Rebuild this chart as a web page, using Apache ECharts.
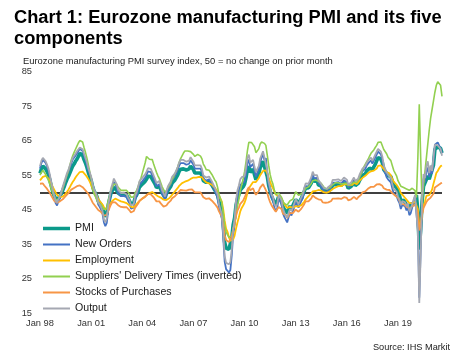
<!DOCTYPE html>
<html>
<head>
<meta charset="utf-8">
<script src="https://cdn.jsdelivr.net/npm/echarts@6/dist/echarts.min.js"></script>
<style>
html,body{margin:0;padding:0;background:#fff;}
#chart{width:463px;height:357px;}
</style>
</head>
<body>
<div id="chart"></div>
<script>
// Monthly categories Jan 1998 .. Aug 2021
const monthNames = ['Jan','Feb','Mar','Apr','May','Jun','Jul','Aug','Sep','Oct','Nov','Dec'];
const firstYear = 1998;
const monthCount = 284;
const categories = [];
for (let i = 0; i < monthCount; i++) {
  const y = (firstYear + Math.floor(i / 12)) % 100;
  categories.push(monthNames[i % 12] + ' ' + String(y).padStart(2, '0'));
}
const yTicks = [15, 25, 35, 45, 55, 65, 75, 85];
const noChangeLevel = 50;

const pmi = [
55.5,56.8,57.6,57.3,56.8,56.0,55.0,53.5,51.8,50.2,49.0,48.2,
47.8,48.3,48.9,49.6,50.6,51.6,52.8,53.8,54.6,55.6,56.6,57.6,
58.2,59.0,59.6,60.4,61.3,61.5,60.8,59.5,58.5,57.3,55.8,54.6,
53.5,51.8,50.4,49.7,48.9,47.6,47.0,46.4,45.6,44.0,43.0,43.8,
46.3,48.1,49.9,50.6,51.5,51.3,50.6,49.8,49.5,49.2,49.3,49.3,
49.6,49.1,48.4,47.9,46.7,46.4,46.9,48.6,49.2,50.2,51.5,51.9,
52.4,52.6,53.2,53.8,54.7,54.4,54.6,54.7,53.1,52.4,51.4,51.4,
51.8,50.8,49.8,49.2,48.4,49.6,50.5,50.4,51.7,52.7,52.8,53.6,
54.0,55.1,56.1,56.7,57.0,56.8,56.6,56.5,56.6,56.8,57.6,57.4,
56.6,55.6,55.6,55.6,55.5,55.6,54.9,53.4,53.2,52.9,52.7,53.2,
52.9,52.1,52.0,50.7,50.6,49.2,47.4,47.6,45.0,41.1,35.6,33.9,
34.4,33.5,33.9,36.8,40.7,42.6,46.3,48.2,49.3,50.7,51.2,51.6,
52.4,54.2,56.6,57.6,55.8,55.6,56.7,55.1,53.7,54.6,55.3,57.1,
57.3,59.0,57.5,58.0,54.6,52.0,50.4,49.0,48.5,47.1,46.4,46.9,
48.8,49.0,47.7,45.9,45.1,45.1,44.0,45.1,46.1,45.4,46.2,46.1,
47.9,47.9,46.8,46.7,48.3,48.8,50.3,51.4,51.1,51.3,51.6,52.7,
54.0,53.2,53.0,53.4,52.2,51.8,51.8,50.7,50.3,50.6,50.1,50.6,
51.0,51.0,52.2,52.0,52.2,52.5,52.4,52.3,52.0,52.3,52.8,53.2,
52.3,51.2,51.6,51.7,51.5,52.8,52.0,51.7,52.6,53.5,53.7,54.9,
55.2,55.4,56.2,56.7,57.0,57.4,56.6,57.4,58.1,58.5,60.1,60.6,
59.6,58.6,56.6,56.2,55.5,54.9,55.1,54.6,53.2,52.0,51.8,51.4,
50.5,49.3,47.5,47.9,47.7,47.6,46.5,47.0,45.7,45.9,46.9,46.3,
47.9,49.2,44.5,33.4,39.4,47.4,51.8,51.7,53.7,54.8,53.8,55.2,
54.8,57.9,62.5,62.9,63.1,63.4,62.8,61.4];

const newOrders = [
56.9,58.5,59.5,59.1,58.5,57.5,56.2,54.4,52.2,50.3,48.5,46.9,
46.2,47.5,48.2,49.5,50.9,52.2,53.6,55.0,55.8,57.1,58.3,59.5,
59.8,60.6,61.3,61.9,62.6,62.8,62.0,60.7,59.5,58.1,56.4,55.2,
54.0,52.0,50.4,49.5,48.3,46.5,45.8,45.0,43.8,41.3,40.2,41.2,
44.8,47.5,50.0,51.2,53.0,52.8,51.5,49.8,49.4,48.9,49.2,49.0,
49.4,48.6,47.6,46.9,45.3,44.8,45.6,48.0,49.0,50.6,52.3,52.6,
53.2,53.5,54.3,55.0,56.1,55.7,55.9,56.0,54.0,53.0,51.8,51.9,
52.4,51.1,49.6,48.8,47.8,49.4,50.8,50.6,52.3,53.6,53.7,54.6,
55.1,56.5,57.8,58.5,58.8,58.5,58.2,58.0,58.1,58.3,59.3,59.0,
58.0,56.9,56.8,56.9,56.7,56.9,55.9,54.0,53.6,53.4,53.0,53.8,
53.4,52.4,52.3,50.5,50.4,48.5,45.7,46.2,42.5,36.9,30.0,27.8,
28.3,26.8,27.5,31.8,37.9,40.5,46.2,49.0,50.3,52.0,52.6,53.0,
53.1,55.4,58.4,59.5,57.3,57.0,58.3,56.3,54.6,55.7,56.6,58.8,
59.1,61.2,59.3,59.9,55.5,52.2,50.4,48.5,47.7,45.6,44.6,45.4,
48.2,48.5,46.6,44.0,42.9,42.8,41.3,42.8,44.2,43.3,44.5,44.3,
47.0,47.1,45.6,45.5,47.6,48.3,50.4,51.8,51.4,51.7,52.1,53.5,
55.1,54.1,53.8,54.2,52.8,52.2,52.3,50.9,50.3,50.8,50.1,50.8,
51.3,51.4,52.8,52.5,52.8,53.2,53.0,52.9,52.5,52.8,53.5,54.0,
52.9,51.5,52.0,52.1,51.9,53.5,52.5,52.1,53.2,54.4,54.6,56.1,
56.5,56.8,57.8,58.4,58.8,59.3,58.3,59.2,60.1,60.6,61.8,62.0,
61.0,59.4,56.6,55.6,54.4,53.8,53.6,52.9,51.2,49.6,49.4,49.0,
47.8,47.0,45.2,46.4,46.0,46.0,44.8,45.7,43.4,44.0,45.6,45.5,
48.3,48.8,39.5,19.5,33.5,48.0,54.0,52.9,56.0,57.2,54.4,56.5,
55.4,59.4,63.8,64.2,64.5,64.6,62.7,61.3];

const employment = [
53.5,54.0,54.5,54.8,54.8,54.5,54.0,53.4,52.5,51.6,50.8,50.0,
49.3,48.9,48.7,48.6,48.8,49.1,49.6,50.1,50.8,51.5,52.3,53.0,
53.6,54.3,54.9,55.4,55.9,56.2,56.0,55.6,55.1,54.5,53.9,53.1,
52.2,51.1,50.3,49.7,49.0,48.1,47.5,47.0,46.5,45.7,45.1,45.0,
45.6,46.2,47.0,47.6,48.0,48.2,48.1,47.8,47.6,47.4,47.3,47.2,
47.1,46.9,46.6,46.2,45.8,45.6,45.7,46.1,46.5,47.1,47.6,47.9,
48.3,48.5,48.9,49.2,49.6,49.8,50.0,50.1,49.8,49.5,49.1,48.9,
48.8,48.5,48.2,47.9,47.6,47.8,48.1,48.3,48.7,49.3,49.8,50.3,
50.8,51.3,51.9,52.4,52.7,52.9,53.1,53.2,53.4,53.6,53.9,54.1,
54.3,54.2,54.3,54.4,54.5,54.6,54.4,53.8,53.3,52.9,52.6,52.6,
52.5,52.2,52.0,51.4,51.0,50.2,49.1,48.6,47.3,45.1,41.8,39.5,
38.6,37.0,36.0,35.6,36.4,37.5,39.5,41.3,42.8,44.5,45.5,46.2,
47.0,48.2,49.8,51.1,51.8,52.2,53.0,53.2,53.0,53.5,54.1,55.0,
55.3,56.2,55.9,56.4,55.5,54.2,53.1,52.0,51.2,50.2,49.4,49.0,
48.9,48.9,48.3,47.3,46.6,46.3,45.5,45.5,45.8,45.4,45.6,45.5,
46.0,46.1,45.9,45.8,46.3,46.5,47.3,48.0,48.5,48.9,49.2,49.7,
50.3,50.3,50.4,50.8,50.7,50.6,50.5,50.1,50.0,50.1,49.9,50.1,
50.3,50.4,51.0,51.2,51.4,51.7,51.8,51.9,51.8,51.9,52.3,52.5,
52.4,52.1,52.2,52.3,52.2,52.8,52.6,52.4,52.8,53.4,53.6,54.2,
54.5,54.8,55.3,55.6,55.9,56.1,56.0,56.3,56.6,56.9,57.7,58.0,
57.8,57.5,56.8,56.4,55.9,55.4,55.5,54.9,53.9,53.1,52.6,52.2,
51.8,50.9,49.8,49.4,48.9,48.6,47.9,47.6,46.9,46.7,46.9,46.6,
47.3,47.5,45.2,39.9,41.0,44.0,46.0,47.3,49.0,49.2,49.2,49.9,
50.8,52.5,54.0,55.6,56.2,57.0,57.6,57.8];

const deliveryTimesInv = [
55.0,55.8,56.4,56.0,55.2,54.3,53.4,52.3,51.0,49.8,48.8,47.9,
47.5,48.0,48.8,49.8,51.0,52.4,53.8,55.0,56.2,57.8,59.4,60.6,
61.6,62.5,63.4,64.3,65.0,65.3,64.6,63.0,61.6,60.0,58.0,56.0,
54.0,51.5,49.6,48.8,47.8,46.9,46.8,46.5,46.0,45.0,44.9,45.6,
47.5,49.0,50.5,51.5,52.4,52.6,52.3,51.5,51.0,50.6,50.4,50.6,
50.8,50.6,50.0,49.4,48.6,48.3,48.7,49.9,50.6,51.6,53.0,54.0,
55.5,57.0,58.5,60.4,60.2,59.6,59.8,59.5,58.2,57.0,55.8,54.8,
54.0,52.8,51.6,50.8,50.0,50.6,51.3,51.5,52.6,53.8,54.4,55.4,
56.2,57.4,58.7,59.8,60.6,61.4,62.0,62.3,62.0,61.6,61.8,61.4,
61.0,60.4,60.6,61.0,60.8,60.5,59.7,58.2,57.5,56.6,56.2,56.4,
56.0,55.2,55.0,53.6,53.0,51.5,49.5,49.0,47.0,44.0,40.5,38.5,
38.0,37.0,36.8,37.5,39.5,41.0,43.5,46.0,48.0,50.5,52.2,53.8,
56.0,58.8,62.0,64.5,64.9,64.4,64.8,63.2,61.5,61.8,62.6,64.0,
64.6,65.0,64.2,63.6,60.8,57.8,55.2,53.5,52.4,50.6,49.4,49.0,
49.8,49.7,48.6,47.4,46.8,46.8,46.3,47.0,47.6,47.4,48.0,48.1,
50.2,50.0,49.2,49.0,49.6,49.8,50.4,51.2,51.4,51.6,51.8,52.6,
53.4,53.2,53.6,53.8,53.2,52.8,52.6,52.0,51.4,51.6,51.0,51.2,
51.4,51.6,52.2,52.4,52.8,53.0,52.8,52.6,52.4,52.2,52.6,52.8,
52.6,52.0,52.0,52.4,52.3,53.0,53.0,52.9,53.5,54.5,55.3,56.4,
57.4,57.8,58.9,59.6,60.5,61.3,61.4,62.3,63.0,63.6,64.5,64.8,
64.6,64.2,62.4,62.0,61.2,60.2,60.0,59.2,57.8,56.4,55.6,54.8,
53.4,52.6,51.8,51.6,51.4,51.2,51.0,51.0,50.6,50.8,51.2,51.0,
50.5,48.5,60.0,75.5,60.0,46.5,52.0,56.0,60.0,64.0,68.0,71.5,
74.0,76.5,79.0,81.0,82.0,82.0,81.0,77.8];

const stocksOfPurchases = [
52.5,52.8,52.6,52.0,51.5,51.0,50.4,49.8,49.0,48.3,47.6,47.2,
47.0,47.1,47.4,47.8,48.0,48.3,48.9,49.4,49.8,50.3,50.8,51.1,
51.3,51.6,51.8,51.7,52.0,51.8,51.5,51.0,50.6,50.2,49.6,48.8,
48.0,47.1,46.6,46.0,45.5,44.9,44.6,44.3,44.0,43.3,43.0,43.5,
44.6,45.6,46.5,47.2,47.4,47.1,46.8,46.3,46.0,45.8,45.9,45.7,
46.0,45.7,45.2,44.8,44.2,44.1,44.6,45.6,46.0,46.7,47.5,47.7,
48.2,48.3,48.7,49.1,49.6,49.2,49.4,49.5,48.6,48.1,47.4,47.3,
47.4,46.8,46.3,45.9,45.5,46.2,46.8,46.8,47.6,48.3,48.5,48.9,
49.2,49.8,50.3,50.7,50.8,50.6,50.5,50.5,50.5,50.8,51.1,50.9,
50.6,50.0,49.9,50.0,49.8,50.0,49.5,48.6,48.4,48.1,48.0,48.3,
48.1,47.6,47.5,46.7,46.6,45.6,44.5,44.6,43.0,40.6,37.5,36.2,
36.0,35.6,35.8,37.2,39.4,40.8,43.2,44.7,45.6,46.7,47.2,47.6,
48.1,49.4,50.8,51.5,50.6,50.5,51.2,50.1,49.3,49.8,50.4,51.4,
51.6,52.4,51.5,51.8,49.8,48.3,47.2,46.3,45.9,45.0,44.4,44.7,
45.8,46.0,45.2,43.9,43.4,43.4,42.6,43.3,44.0,43.5,44.0,43.9,
45.0,45.1,44.4,44.3,45.3,45.7,46.6,47.4,47.2,47.4,47.6,48.3,
49.1,48.6,48.4,48.7,48.0,47.8,47.8,47.1,46.9,47.0,46.8,47.1,
47.4,47.5,48.2,48.1,48.2,48.4,48.3,48.3,48.1,48.3,48.6,48.9,
48.4,47.7,47.9,48.0,47.9,48.7,48.2,48.0,48.6,49.1,49.3,50.0,
50.2,50.3,50.8,51.1,51.3,51.6,51.1,51.6,52.0,52.3,52.8,52.4,
52.2,51.9,51.2,51.1,50.8,50.6,50.7,50.4,49.8,49.3,49.1,48.9,
48.4,47.6,46.6,46.8,46.6,46.5,45.9,46.1,45.3,45.4,45.9,45.6,
46.5,47.0,44.0,39.0,40.5,43.5,45.5,46.0,47.2,47.8,47.5,48.5,
48.3,49.6,51.4,51.8,52.0,52.3,52.6,52.8];

const output = [
57.6,59.2,60.0,59.6,59.0,58.0,56.8,55.0,52.8,50.9,49.2,47.6,
47.0,48.1,48.9,50.2,51.6,52.9,54.2,55.6,56.5,57.8,58.9,60.0,
60.4,61.2,61.9,62.4,63.0,63.2,62.5,61.2,60.0,58.7,57.0,55.8,
54.6,52.5,51.0,50.1,48.9,47.2,46.5,45.7,44.6,42.2,41.3,42.4,
46.0,48.7,51.2,52.4,54.0,53.6,52.4,50.7,50.2,49.8,50.0,49.9,
50.2,49.4,48.5,47.8,46.3,45.8,46.6,49.0,49.9,51.5,53.2,53.6,
54.2,54.4,55.2,56.0,57.0,56.6,56.8,56.8,54.9,53.9,52.7,52.8,
53.3,52.0,50.5,49.7,48.8,50.3,51.7,51.5,53.2,54.5,54.6,55.5,
56.0,57.4,58.7,59.4,59.7,59.4,59.1,58.9,59.0,59.2,60.2,59.9,
58.9,57.8,57.7,57.8,57.6,57.8,56.8,54.9,54.5,54.3,53.9,54.6,
54.2,53.2,53.1,51.4,51.2,49.4,46.6,47.1,43.6,38.2,31.6,29.6,
30.0,29.2,29.8,33.6,39.4,42.3,47.6,50.6,52.0,53.8,54.4,54.8,
54.7,57.0,60.0,60.9,58.6,58.2,59.4,57.4,55.8,56.8,57.6,59.8,
60.0,61.9,60.1,60.6,56.3,53.0,51.3,49.4,48.6,46.6,46.0,46.6,
49.3,49.6,47.7,45.3,44.2,44.1,42.7,44.1,45.2,44.6,45.6,45.4,
48.0,48.1,46.6,46.5,48.6,49.4,51.3,52.6,52.2,52.5,53.0,54.4,
56.0,55.0,54.6,55.0,53.6,53.0,53.0,51.8,51.2,51.6,51.0,51.6,
52.1,52.2,53.6,53.3,53.6,54.0,53.8,53.7,53.3,53.6,54.3,54.8,
53.7,52.3,52.8,52.9,52.7,54.3,53.3,52.9,54.0,55.2,55.4,56.9,
57.3,57.6,58.6,59.2,59.6,60.1,59.1,60.0,60.9,61.4,62.6,62.8,
61.8,60.4,57.8,56.8,55.8,55.1,54.9,54.2,52.4,51.0,50.7,50.2,
48.8,48.0,46.3,47.5,47.1,47.1,46.0,46.8,44.6,45.2,46.6,46.5,
49.2,49.6,38.8,18.0,32.0,49.0,55.3,54.1,57.6,59.0,55.6,57.8,
56.2,60.0,63.8,63.7,63.6,64.0,62.6,60.6];

const seriesNames = ['PMI', 'New Orders', 'Employment', "Suppliers' Delivery Times (inverted)", 'Stocks of Purchases', 'Output'];
const seriesValues = [pmi, newOrders, employment, deliveryTimesInv, stocksOfPurchases, output];
const seriesColors = ['#0b9a8a', '#4472c4', '#ffc000', '#92d050', '#f79646', '#a5a8b2'];
const seriesWidths = [3.6, 1.8, 1.8, 1.6, 1.8, 1.8];

const FONT = '"Liberation Sans", Arial, sans-serif';

// legend icons: thin horizontal bars inside a 27x10 box (tiny corner specks fix the box)
function barIcon(h) {
  const y0 = (10 - h) / 2, y1 = y0 + h;
  return 'path://M0,0L0.01,0L0,0.01Z M27,10L26.99,10L27,9.99Z M0,' + y0 + 'L27,' + y0 + 'L27,' + y1 + 'L0,' + y1 + 'Z';
}

const series = seriesNames.map((name, i) => ({
  name: name,
  type: 'line',
  data: seriesValues[i],
  symbol: 'none',
  showSymbol: false,
  z: 2,
  lineStyle: { color: seriesColors[i], width: seriesWidths[i] },
  itemStyle: { color: seriesColors[i] },
  emphasis: { disabled: true },
  markLine: i === 0 ? {
    silent: true,
    symbol: 'none',
    z: 1,
    label: { show: false },
    lineStyle: { color: '#000', width: 1.5, type: 'solid' },
    data: [{ yAxis: noChangeLevel }]
  } : undefined
}));

const chart = echarts.init(document.getElementById('chart'), null, { renderer: 'canvas' });
chart.setOption({
  animation: false,
  backgroundColor: '#fff',
  title: [
    {
      text: 'Chart 1: Eurozone manufacturing PMI and its five\ncomponents',
      left: 9, top: 2,
      textStyle: { fontFamily: FONT, fontSize: 18.3, fontWeight: 'bold', color: '#000', lineHeight: 21 }
    },
    {
      text: 'Eurozone manufacturing PMI survey index, 50 = no change on prior month',
      left: 18, top: 52,
      textStyle: { fontFamily: FONT, fontSize: 9.4, fontWeight: 'normal', color: '#1a1a1a' }
    },
    {
      text: 'Source: IHS Markit',
      right: 8, top: 338,
      textStyle: { fontFamily: FONT, fontSize: 9.2, fontWeight: 'normal', color: '#1a1a1a' }
    }
  ],
  legend: {
    orient: 'vertical',
    left: 43, top: 223,
    padding: 0,
    itemWidth: 27, itemHeight: 10, itemGap: 5,
    data: seriesNames.map((n, i) => ({ name: n, icon: barIcon(i === 0 ? 3.6 : 1.8) })),
    textStyle: { fontFamily: FONT, fontSize: 10.6, color: '#1a1a1a' },
    selectedMode: false
  },
  grid: { left: 40, right: 21, top: 71.5, bottom: 43.7, containLabel: false },
  xAxis: {
    type: 'category',
    data: categories,
    boundaryGap: false,
    axisLine: { show: false },
    axisTick: { show: false },
    splitLine: { show: false },
    axisLabel: {
      interval: (idx) => idx % 36 === 0,
      margin: 6,
      fontFamily: FONT, fontSize: 9.3, color: '#333'
    }
  },
  yAxis: {
    type: 'value',
    min: yTicks[0], max: yTicks[yTicks.length - 1], interval: 10,
    axisLine: { show: false },
    axisTick: { show: false },
    splitLine: { show: false },
    axisLabel: { margin: 8, fontFamily: FONT, fontSize: 9.3, color: '#333' }
  },
  series: series
});
</script>
</body>
</html>
